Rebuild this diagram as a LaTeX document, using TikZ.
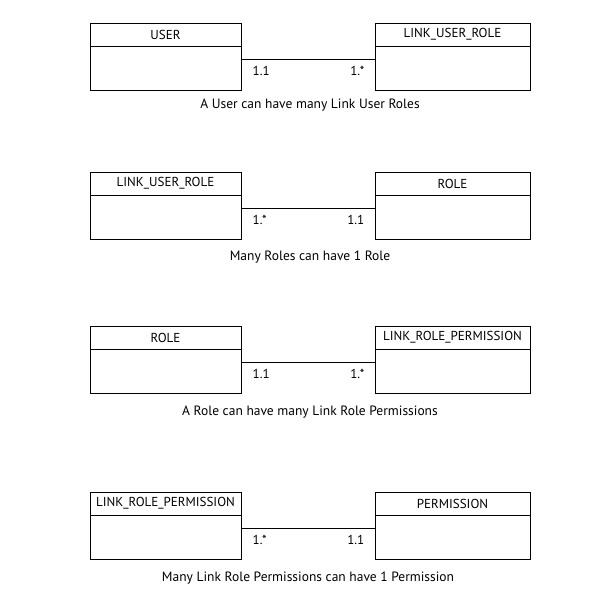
\documentclass[tikz,border=0pt]{standalone}
\usepackage{fontspec}
\setmainfont{PT Sans}
\usepackage{tikz}
\usetikzlibrary{positioning}

\tikzset{
  head/.style={draw, line width=0.7pt, minimum height=23pt, inner sep=0pt, font=\fontsize{13}{15}\selectfont},
  body/.style={draw, line width=0.7pt, minimum height=44pt, inner sep=0pt},
  mult/.style={inner sep=0pt, font=\fontsize{13}{15}\selectfont},
  caption/.style={inner sep=0pt, font=\fontsize{13.5}{16}\selectfont}
}

\begin{document}
\begin{tikzpicture}[x=1pt,y=1pt]
  \useasboundingbox (0,0) rectangle (612,-612);
  % user -- link_user_role
  \node[head, minimum width=151pt] (user) at (165.5,-34.5) {USER};
  \node[body, minimum width=151pt, below=0pt of user] (userb) {};
  \node[head, minimum width=155pt] (lur) at (452.5,-34.5) {LINK\_USER\_ROLE};
  \node[body, minimum width=155pt, below=0pt of lur] (lurb) {};
  \path[draw, line width=0.7pt]
    ([yshift=9pt]userb.east) -- node[mult, pos=0, anchor=west, shift={(11pt,-11pt)}] {1.1}
      node[mult, pos=1, anchor=east, shift={(-10pt,-11pt)}] {1.*} ([yshift=9pt]lurb.west);
  \node[caption] (cap1) at (310,-105) {A User can have many Link User Roles};
  % link_user_role -- role
  \node[head, minimum width=151pt] (lur2) at (165.5,-183.5) {LINK\_USER\_ROLE};
  \node[body, minimum width=151pt, below=0pt of lur2] (lur2b) {};
  \node[head, minimum width=155pt] (role) at (452.5,-183.5) {ROLE};
  \node[body, minimum width=155pt, below=0pt of role] (roleb) {};
  \path[draw, line width=0.7pt]
    ([yshift=9pt]lur2b.east) -- node[mult, pos=0, anchor=west, shift={(11pt,-11pt)}] {1.*}
      node[mult, pos=1, anchor=east, shift={(-10pt,-11pt)}] {1.1} ([yshift=9pt]roleb.west);
  \node[caption] (cap2) at (310,-257) {Many Roles can have 1 Role};
  % role -- link_role_permission
  \node[head, minimum width=151pt] (role2) at (165.5,-337.5) {ROLE};
  \node[body, minimum width=151pt, below=0pt of role2] (role2b) {};
  \node[head, minimum width=155pt] (lrp) at (452.5,-337.5) {LINK\_ROLE\_PERMISSION};
  \node[body, minimum width=155pt, below=0pt of lrp] (lrpb) {};
  \path[draw, line width=0.7pt]
    ([yshift=9pt]role2b.east) -- node[mult, pos=0, anchor=west, shift={(11pt,-11pt)}] {1.1}
      node[mult, pos=1, anchor=east, shift={(-10pt,-11pt)}] {1.*} ([yshift=9pt]lrpb.west);
  \node[caption] (cap3) at (310,-412) {A Role can have many Link Role Permissions};
  % link_role_permission -- permission
  \node[head, minimum width=151pt] (lrp2) at (165.5,-503.5) {LINK\_ROLE\_PERMISSION};
  \node[body, minimum width=151pt, below=0pt of lrp2] (lrp2b) {};
  \node[head, minimum width=155pt] (perm) at (452.5,-503.5) {PERMISSION};
  \node[body, minimum width=155pt, below=0pt of perm] (permb) {};
  \path[draw, line width=0.7pt]
    ([yshift=9pt]lrp2b.east) -- node[mult, pos=0, anchor=west, shift={(11pt,-11pt)}] {1.*}
      node[mult, pos=1, anchor=east, shift={(-10pt,-11pt)}] {1.1} ([yshift=9pt]permb.west);
  \node[caption] (cap4) at (308,-578) {Many Link Role Permissions can have 1 Permission};
\end{tikzpicture}
\end{document}
